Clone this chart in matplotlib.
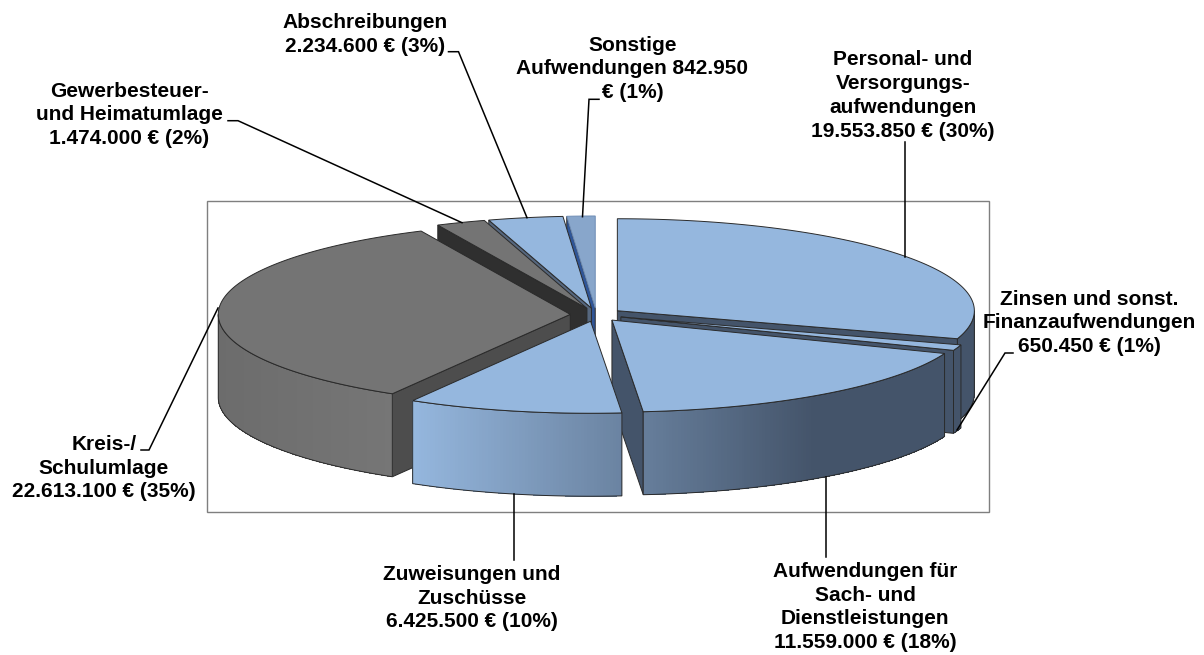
import numpy as np
import matplotlib
matplotlib.use("Agg")
import matplotlib.pyplot as plt
from matplotlib.patches import Polygon, Rectangle
from matplotlib.collections import PolyCollection
from matplotlib.colors import to_rgb

# ---- data ----
categories = ["Personal", "Zinsen", "Sach", "Zuweisungen", "Kreis", "Gewerbe", "Abschreibungen", "Sonstige"]
values = [19553850, 650450, 11559000, 6425500, 22613100, 1474000, 2234600, 842950]
labels = [
    "Personal- und\nVersorgungs-\naufwendungen\n19.553.850 € (30%)",
    "Zinsen und sonst.\nFinanzaufwendungen\n650.450 € (1%)",
    "Aufwendungen für\nSach- und\nDienstleistungen\n11.559.000 € (18%)",
    "Zuweisungen und\nZuschüsse\n6.425.500 € (10%)",
    "Kreis-/\nSchulumlage\n22.613.100 € (35%)",
    "Gewerbesteuer-\nund Heimatumlage\n1.474.000 € (2%)",
    "Abschreibungen\n2.234.600 € (3%)",
    "Sonstige\nAufwendungen 842.950\n€ (1%)",
]

# ---- layout ----
W, H = 1204, 655
CX, CY, RX, RX_LEFT, RY, DEPTH, EXPLODE = 596.3, 314.7, 357.0, 352.0, 92.0, 83.0, 0.073
label_pos = [(903, 95.5), (1089, 323), (865, 607), (471.6, 598),
             (104, 468), (129.5, 115), (365.5, 34.5), (632.5, 69)]
leaders = [
    [(905, 142), (905, 257)],
    [(1013, 353), (1005, 353), (957, 430)],
    [(826, 477), (826, 557)],
    [(514, 494), (514, 560)],
    [(141, 450), (149, 450), (218, 308)],
    [(228, 120.7), (238, 120.7), (462, 222.7)],
    [(448.5, 51.7), (458.5, 51.7), (527, 217.7)],
    [(599, 99.3), (589, 99.3), (582.5, 216.7)],
]
draw_order = [7, 6, 5, 0, 1, 2, 4, 3]
BLUE, BLUE_SOFT, SLATE = "#95B7DE", "#88A6CB", "#44546A"
GRAY = "#747474"
top_col = [BLUE, BLUE, BLUE, BLUE, GRAY, GRAY, BLUE, BLUE_SOFT]
cut_col = [SLATE, SLATE, SLATE, SLATE, "#4D4D4D", "#2F2F2F", "#56677E", "#2F5597"]
EDGE = "#2A2A2A"

fig = plt.figure(figsize=(W / 100, H / 100), dpi=100)
ax = fig.add_axes([0, 0, 1, 1])
ax.set_xlim(0, W)
ax.set_ylim(H, 0)
ax.axis("off")
ax.add_patch(Rectangle((207, 200.5), 781.5, 311.5, fc="white", ec="#7F7F7F", lw=1.0, zorder=1))


def ell(ax0, ay0, deg):
    r = np.radians(deg)
    s = np.sin(r)
    return ax0 + np.where(s >= 0, RX, RX_LEFT) * s, ay0 - RY * np.cos(r)


def rim_colour(i, x):
    if top_col[i] == GRAY:
        t = np.clip((x - 217) / 175, 0, 1)
        c0, c1 = np.array(to_rgb("#6C6C6C")), np.array(to_rgb("#767676"))
    else:
        t = np.clip((x - 412) / (812 - 412), 0, 1)
        c0, c1 = np.array(to_rgb(BLUE)), np.array(to_rgb(SLATE))
    return tuple(c0 + (c1 - c0) * t)


vals = np.array(values, dtype=float)
edges = np.concatenate([[0], np.cumsum(vals) / vals.sum() * 360])
z = 2
for i in draw_order:
    a, b = edges[i], edges[i + 1]
    mid = np.radians((a + b) / 2)
    px = CX + EXPLODE * RX * np.sin(mid)
    py = CY - EXPLODE * RY * np.cos(mid)

    # visible cut faces
    for ang, visible in ((b, np.sin(np.radians(b)) > 0), (a, np.sin(np.radians(a)) < 0)):
        if visible:
            ox, oy = ell(px, py, ang)
            ax.add_patch(Polygon([(px, py), (ox, oy), (ox, oy + DEPTH), (px, py + DEPTH)],
                                 closed=True, fc=cut_col[i], ec=EDGE, lw=0.7, zorder=z))
            z += 1

    # outer rim with gradient
    lo, hi = max(a, 90), min(b, 270)
    if hi > lo:
        th = np.linspace(lo, hi, max(int((hi - lo) * 2), 2))
        xs, ys = ell(px, py, th)
        quads = [[(xs[k], ys[k]), (xs[k + 1], ys[k + 1]),
                  (xs[k + 1], ys[k + 1] + DEPTH), (xs[k], ys[k] + DEPTH)] for k in range(len(th) - 1)]
        cols = [rim_colour(i, (xs[k] + xs[k + 1]) / 2) for k in range(len(th) - 1)]
        ax.add_collection(PolyCollection(quads, facecolors=cols, edgecolors="none", linewidths=0,
                                         antialiaseds=False, zorder=z))
        z += 1
        outline = list(zip(xs, ys)) + list(zip(xs[::-1], ys[::-1] + DEPTH))
        ax.add_patch(Polygon(outline, closed=True, fill=False, ec=EDGE, lw=0.7, zorder=z))
        z += 1

    # top face
    th = np.linspace(a, b, max(int((b - a) * 3), 3))
    xs, ys = ell(px, py, th)
    ax.add_patch(Polygon([(px, py)] + list(zip(xs, ys)), closed=True, fc=top_col[i],
                         ec=EDGE if i != 7 else "#6F8DB5", lw=0.7, zorder=z))
    z += 1

for pts in leaders:
    xs, ys = zip(*pts)
    ax.plot(xs, ys, color="black", lw=1.1, zorder=z, solid_joinstyle="miter")

for txt, (x, y) in zip(labels, label_pos):
    ax.text(x, y, txt, ha="center", va="center", ma="center", fontsize=15, fontweight="bold",
            family="Liberation Sans", color="black", linespacing=1.33, zorder=z + 1)

fig.savefig("out.png", dpi=100, facecolor="white")
